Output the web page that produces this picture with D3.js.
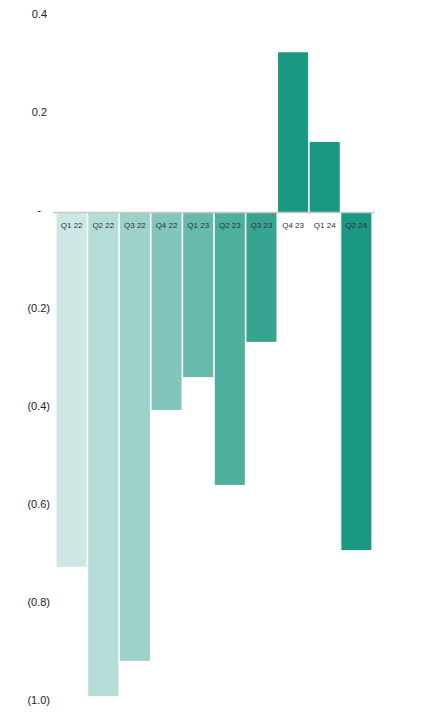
<!DOCTYPE html>
<html>
<head>
<meta charset="utf-8">
<script src="https://cdn.jsdelivr.net/npm/d3@7"></script>
<style>
  body { margin: 0; background: #fff; }
  svg { display: block; font-family: "Liberation Sans", Arial, sans-serif; }
</style>
</head>
<body>
<div id="chart"></div>
<script>
var quarters = ["Q1 22", "Q2 22", "Q3 22", "Q4 22", "Q1 23", "Q2 23", "Q3 23", "Q4 23", "Q1 24", "Q2 24"];
var values = [-0.723, -0.987, -0.915, -0.403, -0.336, -0.556, -0.264, 0.327, 0.144, -0.689];
var colors = ["#cde8e4", "#b4ddd8", "#9dd2ca", "#81c5bb", "#67baad", "#4faf9f", "#37a391", "#1b9882", "#1b9882", "#1b9882"];
var yTicks = [0.4, 0.2, 0, -0.2, -0.4, -0.6, -0.8, -1.0];

var width = 432, height = 722;

var svg = d3.select("#chart").append("svg")
    .attr("width", width)
    .attr("height", height);

var x = d3.scaleBand()
    .domain(quarters)
    .range([56, 372])
    .paddingInner(0.05)
    .paddingOuter(0.02);

var y = d3.scaleLinear()
    .domain([-1.0, 0.4])
    .range([702.5, 16.5]);

function fmt(v) {
  if (Math.abs(v) < 1e-9) return "-";
  if (v < 0) return "(" + d3.format(".1f")(-v) + ")";
  return d3.format(".1f")(v);
}

// y labels (no axis line)
var yAxis = svg.append("g")
    .attr("class", "axis axis--y")
    .attr("transform", "translate(50,0)")
    .call(d3.axisLeft(y).tickValues(yTicks).tickFormat(fmt).tickSize(0).tickPadding(0));

yAxis.select(".domain").remove();
yAxis.selectAll("text")
    .attr("fill", "#222")
    .style("font-size", "11px")
    .attr("dy", "0.32em")
    .attr("y", -3)
    .attr("x", function(d) { return d > 0 ? -3 : (d === 0 ? -9 : 0); });

// bars
svg.selectAll(".bar")
    .data(values)
  .enter().append("rect")
    .attr("class", "bar")
    .attr("x", function(d, i) { return x(quarters[i]); })
    .attr("width", x.bandwidth())
    .attr("y", function(d) { return y(Math.max(0, d)); })
    .attr("height", function(d) { return Math.abs(y(d) - y(0)); })
    .attr("fill", function(d, i) { return colors[i]; });

// zero line
svg.append("line")
    .attr("x1", 53)
    .attr("x2", 375)
    .attr("y1", y(0))
    .attr("y2", y(0))
    .attr("stroke", "#c8c8c8")
    .attr("stroke-width", 1.5);

// category labels under the zero line
svg.selectAll(".cat")
    .data(quarters)
  .enter().append("text")
    .attr("class", "cat")
    .attr("x", function(d) { return x(d) + x.bandwidth() / 2; })
    .attr("y", y(0) + 15)
    .attr("text-anchor", "middle")
    .attr("fill", "#2a2f45")
    .style("font-size", "8px")
    .text(function(d) { return d; });
</script>
</body>
</html>
